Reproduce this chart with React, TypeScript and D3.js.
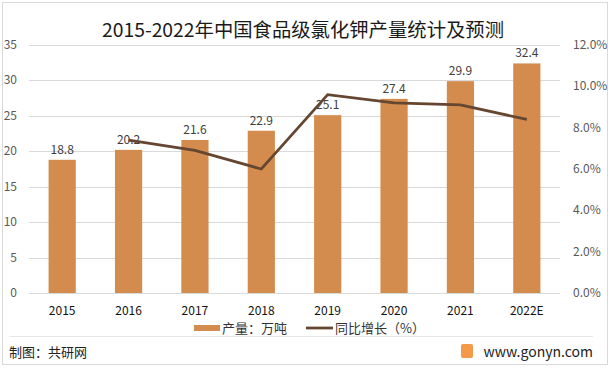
import React, { useEffect, useRef } from "react";
import * as d3 from "d3";

const years = ["2015", "2016", "2017", "2018", "2019", "2020", "2021", "2022E"];
const output = [18.8, 20.2, 21.6, 22.9, 25.1, 27.4, 29.9, 32.4];
// growth rate, first year has none
const growth: (number | null)[] = [null, 7.4, 6.9, 6.0, 9.6, 9.2, 9.1, 8.4];
const leftTicks = [0, 5, 10, 15, 20, 25, 30, 35];
const rightTicks = [0, 2, 4, 6, 8, 10, 12];

const W = 612;
const H = 369;
const font = "'Microsoft YaHei', 'Noto Sans CJK SC', sans-serif";

const App: React.FC = () => {
  const ref = useRef<SVGSVGElement>(null);

  useEffect(() => {
    const svg = d3.select(ref.current);
    svg.selectAll("*").remove();

    const plot = { left: 29, right: 560, top: 45, bottom: 293 };

    const x = d3.scaleBand<string>()
      .domain(years)
      .range([plot.left, plot.right])
      .paddingInner(0.59)
      .paddingOuter(0.295);

    const y = d3.scaleLinear().domain([0, 35]).range([plot.bottom, plot.top]);
    const y2 = d3.scaleLinear().domain([0, 12]).range([plot.bottom, plot.top]);

    // frame
    svg.append("rect")
      .attr("x", 2.5).attr("y", 2.5)
      .attr("width", 605).attr("height", 362)
      .attr("fill", "#fff").attr("stroke", "#d9d9d9");

    svg.append("text")
      .attr("x", 102).attr("y", 37)
      .attr("font-family", font)
      .attr("font-size", 19)
      .attr("textLength", 402)
      .attr("lengthAdjust", "spacingAndGlyphs")
      .attr("fill", "#1a1a1a")
      .text("2015-2022年中国食品级氯化钾产量统计及预测");

    // gridlines
    svg.append("g")
      .selectAll("line")
      .data(leftTicks)
      .join("line")
      .attr("x1", plot.left).attr("x2", plot.right)
      .attr("y1", d => Math.round(y(d)) + 0.5)
      .attr("y2", d => Math.round(y(d)) + 0.5)
      .attr("stroke", "#d9d9d9");

    // left axis
    svg.append("g")
      .selectAll("text")
      .data(leftTicks)
      .join("text")
      .attr("x", 17).attr("y", d => y(d) + 4)
      .attr("text-anchor", "end")
      .attr("font-family", font).attr("font-size", 12)
      .attr("fill", "#595959")
      .text(d => d);

    // right axis
    svg.append("g")
      .selectAll("text")
      .data(rightTicks)
      .join("text")
      .attr("x", 573).attr("y", d => y2(d) + 4)
      .attr("font-family", font).attr("font-size", 12)
      .attr("fill", "#595959")
      .text(d => d3.format(".1f")(d) + "%");

    // bars
    svg.append("g")
      .selectAll("rect")
      .data(output)
      .join("rect")
      .attr("x", (d, i) => x(years[i])!)
      .attr("y", d => y(d))
      .attr("width", x.bandwidth())
      .attr("height", d => plot.bottom - y(d))
      .attr("fill", "#D38C4E");

    svg.append("g")
      .selectAll("text")
      .data(output)
      .join("text")
      .attr("x", (d, i) => x(years[i])! + x.bandwidth() / 2)
      .attr("y", d => y(d) - 6)
      .attr("text-anchor", "middle")
      .attr("font-family", font).attr("font-size", 12)
      .attr("fill", "#404040")
      .text(d => d.toFixed(1));

    // growth line
    const pts = growth
      .map((g, i) => ({ g, year: years[i] }))
      .filter(p => p.g !== null) as { g: number; year: string }[];
    const line = d3.line<{ g: number; year: string }>()
      .x(p => x(p.year)! + x.bandwidth() / 2)
      .y(p => y2(p.g));
    svg.append("path")
      .attr("d", line(pts))
      .attr("fill", "none")
      .attr("stroke", "#654631")
      .attr("stroke-width", 2.75);

    // x labels
    svg.append("g")
      .selectAll("text")
      .data(years)
      .join("text")
      .attr("x", d => x(d)! + x.bandwidth() / 2)
      .attr("y", 315)
      .attr("text-anchor", "middle")
      .attr("font-family", font).attr("font-size", 12)
      .attr("fill", "#111")
      .text(d => d);

    // legend
    const lg = svg.append("g").attr("font-family", font).attr("font-size", 13).attr("fill", "#333");
    lg.append("rect").attr("x", 194).attr("y", 325).attr("width", 26).attr("height", 6).attr("fill", "#D38C4E");
    lg.append("text").attr("x", 222).attr("y", 333).text("产量：万吨");
    lg.append("line").attr("x1", 306).attr("x2", 333).attr("y1", 328).attr("y2", 328)
      .attr("stroke", "#654631").attr("stroke-width", 2.75);
    lg.append("text").attr("x", 335).attr("y", 333).text("同比增长（%）");

    // footer
    svg.append("line")
      .attr("x1", 10).attr("x2", 593).attr("y1", 336.5).attr("y2", 336.5)
      .attr("stroke", "#e6e6e6");
    svg.append("text")
      .attr("x", 9).attr("y", 357)
      .attr("font-family", font).attr("font-size", 13)
      .attr("fill", "#222")
      .text("制图：共研网");
    svg.append("rect")
      .attr("x", 461).attr("y", 344).attr("width", 12).attr("height", 14).attr("rx", 2)
      .attr("fill", "#f39a4a");
    svg.append("text")
      .attr("x", 593).attr("y", 357)
      .attr("text-anchor", "end")
      .attr("font-family", font).attr("font-size", 14)
      .attr("fill", "#222")
      .text("www.gonyn.com");
  }, []);

  return (
    <svg
      ref={ref}
      width={W}
      height={H}
      style={{ position: "absolute", left: 0, top: 0, display: "block" }}
    />
  );
};

export default App;
